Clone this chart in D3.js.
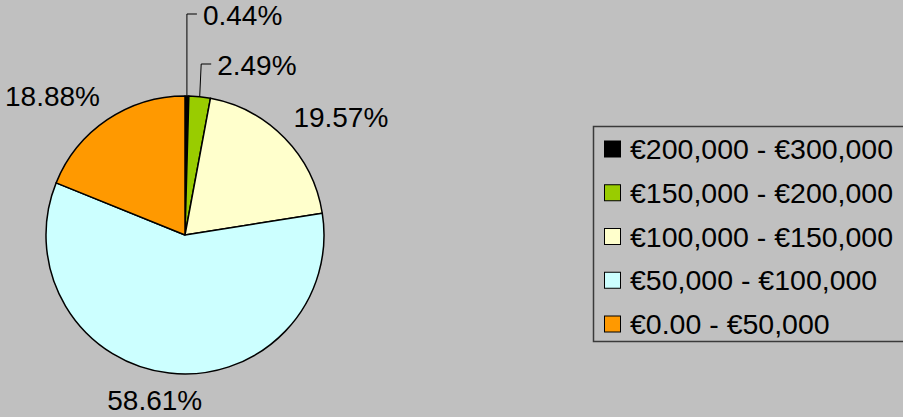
<!DOCTYPE html>
<html>
<head>
<meta charset="utf-8">
<script src="https://cdn.jsdelivr.net/npm/d3@7"></script>
<style>
  html, body { margin: 0; padding: 0; background: #c0c0c0; }
  svg { display: block; font-family: "Liberation Sans", Arial, sans-serif; }
</style>
</head>
<body>
<div id="chart"></div>
<script>
  // slices, clockwise from 12 o'clock
  var categories = ['€200,000 - €300,000', '€150,000 - €200,000', '€100,000 - €150,000', '€50,000 - €100,000', '€0.00 - €50,000'];
  var shares = [0.44, 2.49, 19.57, 58.61, 18.88];
  var colours = ['#000000', '#99cc00', '#ffffcc', '#ccffff', '#ff9900'];
  var pctLabels = ['0.44%', '2.49%', '19.57%', '58.61%', '18.88%'];

  var width = 903, height = 417,
      cx = 185, cy = 235, radius = 139;

  var svg = d3.select('#chart')
    .append('svg')
    .attr('width', width)
    .attr('height', height);

  svg.append('rect')
    .attr('width', width)
    .attr('height', height)
    .attr('fill', '#c0c0c0');

  var pie = d3.pie().sort(null).value(function(d) { return d; });
  var arcs = pie(shares);

  var arc = d3.arc().innerRadius(0).outerRadius(radius);

  var g = svg.append('g')
    .attr('transform', 'translate(' + cx + ',' + cy + ')');

  g.selectAll('path.slice')
    .data(arcs)
    .enter().append('path')
    .attr('class', 'slice')
    .attr('d', arc)
    .attr('fill', function(d, i) { return colours[i]; })
    .attr('stroke', '#000')
    .attr('stroke-width', 1.5)
    .attr('stroke-linejoin', 'round');

  // labels: small slices get a leader line going up, the others sit outside the rim
  var leaderRadius = [221, 171];
  function mid(d) { return (d.startAngle + d.endAngle) / 2; }
  function polar(a, r) { return [r * Math.sin(a), -r * Math.cos(a)]; }

  arcs.forEach(function(d, i) {
    var a = mid(d);
    if (i < leaderRadius.length) {
      var p0 = polar(a, radius);
      var p1 = [p0[0] + (i === 0 ? 0 : 1.5), -leaderRadius[i]];
      g.append('polyline')
        .attr('points', [p0, p1, [p1[0] + 10, p1[1]]].map(function(p) { return p.join(','); }).join(' '))
        .attr('fill', 'none')
        .attr('stroke', '#000')
        .attr('stroke-width', 1);
      g.append('text')
        .attr('x', p1[0] + 16)
        .attr('y', p1[1] + 11)
        .attr('font-size', '28px')
        .attr('fill', '#000')
        .text(pctLabels[i]);
    } else {
      var p = polar(a, radius + 22);
      var s = Math.sin(a), c = Math.cos(a);
      var anchor = Math.abs(s) < 0.3 ? 'middle' : (s > 0 ? 'start' : 'end');
      var dx = anchor === 'start' ? -7 : (anchor === 'end' ? 5 : -12);
      var dy = c < -0.9 ? 15 : 4;
      g.append('text')
        .attr('x', p[0] + dx)
        .attr('y', p[1] + dy)
        .attr('text-anchor', anchor)
        .attr('font-size', '28px')
        .attr('fill', '#000')
        .text(pctLabels[i]);
    }
  });

  // legend
  var legend = svg.append('g').attr('class', 'legend');
  legend.append('rect')
    .attr('x', 593.5)
    .attr('y', 126.5)
    .attr('width', 320)
    .attr('height', 215)
    .attr('fill', '#c0c0c0')
    .attr('stroke', '#3a3a3a')
    .attr('stroke-width', 1.5);

  var rowY = d3.scalePoint()
    .domain(categories)
    .range([149, 324]);

  var rows = legend.selectAll('g.row')
    .data(categories)
    .enter().append('g')
    .attr('class', 'row')
    .attr('transform', function(d) { return 'translate(604,' + rowY(d) + ')'; });

  rows.append('rect')
    .attr('x', 0.5)
    .attr('y', -8)
    .attr('width', 16)
    .attr('height', 16)
    .attr('fill', function(d, i) { return colours[i]; })
    .attr('stroke', '#000')
    .attr('stroke-width', 1);

  rows.append('text')
    .attr('x', 26)
    .attr('y', 10)
    .attr('font-size', '28.5px')
    .attr('fill', '#000')
    .text(function(d) { return d; });
</script>
</body>
</html>
